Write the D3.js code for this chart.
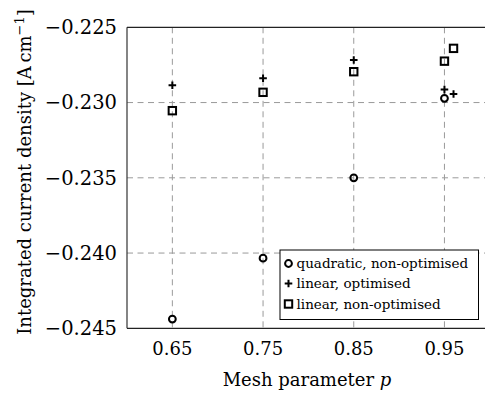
<!DOCTYPE html>
<html><head><meta charset="utf-8">
<script src="https://cdn.jsdelivr.net/npm/d3@7"></script>
<style>body{margin:0;background:#fff}svg{display:block}text{font-family:"DejaVu Serif",serif;fill:#000}</style>
</head><body><svg id="c" width="485" height="396"></svg>
<script>
const xTicks = [0.65, 0.75, 0.85, 0.95];
const yTicks = [-0.245, -0.240, -0.235, -0.230, -0.225];
const quadP = [0.65, 0.75, 0.85, 0.95];
const quadV = [-0.24439, -0.24034, -0.2350, -0.22972];
const linOptP = [0.65, 0.75, 0.85, 0.95, 0.96];
const linOptV = [-0.22885, -0.22839, -0.22717, -0.22914, -0.22943];
const linNonP = [0.65, 0.75, 0.85, 0.95, 0.96];
const linNonV = [-0.23054, -0.22932, -0.22795, -0.22725, -0.22640];
const legendLabels = ["quadratic, non-optimised", "linear, optimised", "linear, non-optimised"];

const svg = d3.select("#c");
const L = 127, T = 27.3, B = 328.3;
const x = d3.scaleLinear().domain([0.6, 1.0]).range([L, L + 0.4 * 907]);
const y = d3.scaleLinear().domain([-0.245, -0.225]).range([B, T]);
const fmt = v => (v < 0 ? "\u2212" : "") + Math.abs(v).toFixed(3);

// grid
const g = svg.append("g");
g.selectAll(".gx").data(xTicks).enter().append("line")
  .attr("x1", d => x(d)).attr("x2", d => x(d)).attr("y1", T).attr("y2", B)
  .attr("stroke", "#9a9a9a").attr("stroke-width", 1).attr("stroke-dasharray", "6,4.5");
g.selectAll(".gy").data(yTicks.slice(1, -1)).enter().append("line")
  .attr("x1", L).attr("x2", 490).attr("y1", d => y(d)).attr("y2", d => y(d))
  .attr("stroke", "#9a9a9a").attr("stroke-width", 1).attr("stroke-dasharray", "6,4.5");

// axes frame
svg.append("line").attr("x1", L).attr("x2", L).attr("y1", T).attr("y2", B).attr("stroke", "#333").attr("stroke-width", 1.2);
svg.append("line").attr("x1", L).attr("x2", 490).attr("y1", T).attr("y2", T).attr("stroke", "#222").attr("stroke-width", 1.2);
svg.append("line").attr("x1", L).attr("x2", 490).attr("y1", B).attr("y2", B).attr("stroke", "#222").attr("stroke-width", 1.2);

// tick labels
svg.selectAll(".yt").data(yTicks).enter().append("text")
  .attr("x", 117).attr("y", d => y(d)).attr("dy", "0.35em").attr("text-anchor", "end")
  .style("font-size", "19.5px").text(fmt);
svg.selectAll(".xt").data(xTicks).enter().append("text")
  .attr("x", d => x(d)).attr("y", 355).attr("text-anchor", "middle")
  .style("font-size", "18px").text(d => d.toFixed(2));

// axis titles
const xl = svg.append("text").attr("x", 307).attr("y", 386).attr("text-anchor", "middle").style("font-size", "18px");
xl.append("tspan").text("Mesh parameter ");
xl.append("tspan").style("font-style", "italic").text("p");
const yl = svg.append("text").attr("transform", "translate(31,172) rotate(-90)").attr("text-anchor", "middle").style("font-size", "18px");
yl.append("tspan").text("Integrated current density [A\u2009cm");
yl.append("tspan").attr("dy", -7).style("font-size", "13px").text("\u22121");
yl.append("tspan").attr("dy", 7).text("]");

// markers
function circle(sel, cx, cy) { sel.append("circle").attr("cx", cx).attr("cy", cy).attr("r", 3.4).attr("fill", "none").attr("stroke", "#000").attr("stroke-width", 2); }
function plus(sel, cx, cy) { sel.append("path").attr("d", `M${cx-3.8},${cy}H${cx+3.8}M${cx},${cy-3.8}V${cy+3.8}`).attr("stroke", "#000").attr("stroke-width", 2); }
function square(sel, cx, cy) { sel.append("rect").attr("x", cx-3.7).attr("y", cy-3.7).attr("width", 7.4).attr("height", 7.4).attr("fill", "none").attr("stroke", "#000").attr("stroke-width", 2); }
const m = svg.append("g");
quadP.forEach((p, i) => circle(m, x(p), y(quadV[i])));
linOptP.forEach((p, i) => plus(m, x(p), y(linOptV[i])));
linNonP.forEach((p, i) => square(m, x(p), y(linNonV[i])));

// legend
const lg = svg.append("g");
lg.append("rect").attr("x", 280).attr("y", 250).attr("width", 198.5).attr("height", 69.5).attr("fill", "#fff").attr("stroke", "#000").attr("stroke-width", 1);
const rows = [263.5, 283.5, 304];
const fns = [circle, plus, square];
legendLabels.forEach((t, i) => {
  fns[i](lg, 288.5, rows[i]);
  lg.append("text").attr("x", 296.5).attr("y", rows[i]).attr("dy", "0.35em").style("font-size", "13.5px").text(t);
});
</script></body></html>
